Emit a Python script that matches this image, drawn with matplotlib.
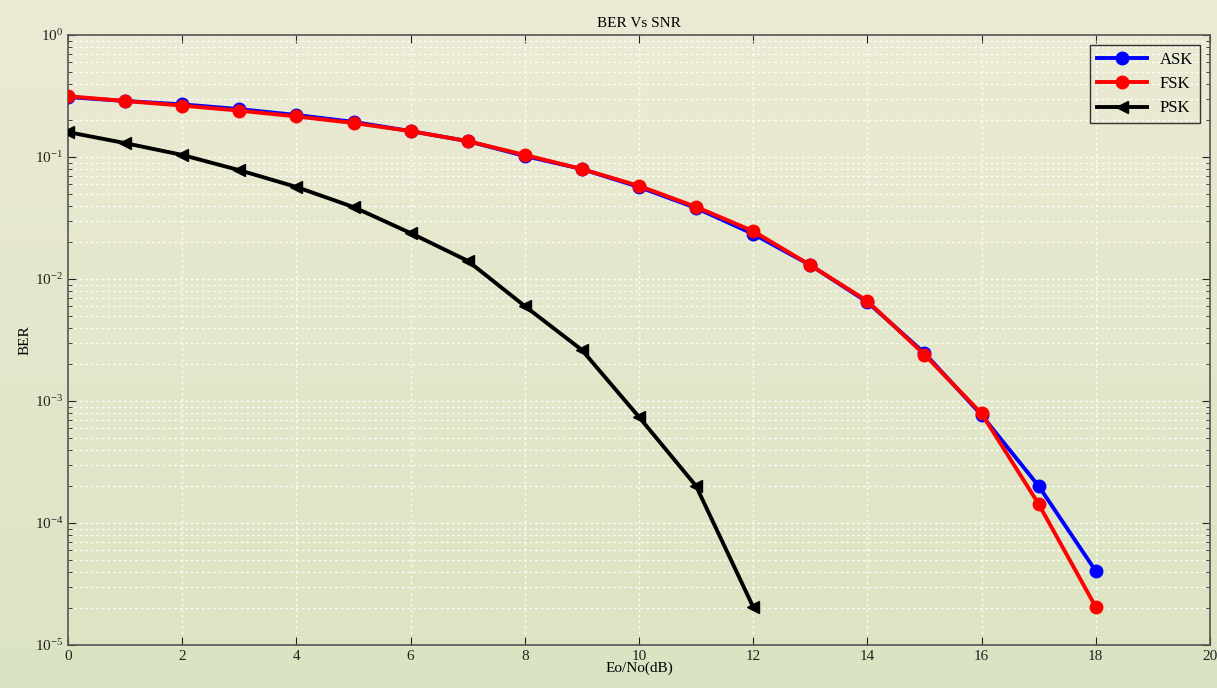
import numpy as np
import matplotlib.pyplot as plt
from matplotlib.ticker import LogLocator

# ==========================
# Dados
# ==========================
snr_ask = [0, 1, 2, 3, 4, 5, 6, 7, 8, 9, 10, 11, 12, 13, 14, 15, 16, 17, 18]
ber_ask = [0.31, 0.288, 0.27, 0.247, 0.221, 0.194, 0.163, 0.135, 0.102,
           0.0797, 0.0568, 0.0382, 0.0234, 0.013, 0.00647, 0.00247,
           7.67e-4, 2.01e-4, 4.04e-5]

snr_fsk = [0, 1, 2, 3, 4, 5, 6, 7, 8, 9, 10, 11, 12, 13, 14, 15, 16, 17, 18]
ber_fsk = [0.315, 0.288, 0.264, 0.24, 0.215, 0.19, 0.163, 0.135, 0.104,
           0.0797, 0.058, 0.039, 0.0247, 0.013, 0.0066, 0.0024,
           7.9e-4, 1.43e-4, 2.05e-5]

snr_psk = [0, 1, 2, 3, 4, 5, 6, 7, 8, 9, 10, 11, 12]
ber_psk = [0.16, 0.13, 0.104, 0.078, 0.0568, 0.0389, 0.0238, 0.0141,
           0.006, 0.00262, 7.4e-4, 2.01e-4, 2.05e-5]

plt.rcParams['font.family'] = ['Liberation Serif', 'DejaVu Serif']

# ==========================
# Gráfico
# ==========================
fig = plt.figure(figsize=(12.17, 6.88), dpi=100)

# fundo em degradê
bg = fig.add_axes([0, 0, 1, 1], zorder=-10)
top = np.array([0xEC, 0xEA, 0xD4]) / 255
bot = np.array([0xDB, 0xE4, 0xC2]) / 255
t = np.linspace(0, 1, 256)[:, None]
grad = top * (1 - t) + bot * t
bg.imshow(grad[:, None, :], aspect='auto', extent=[0, 1, 0, 1])
bg.axis('off')

ax = fig.add_axes([0.0559, 0.0625, 0.9383, 0.8866])
ax.set_facecolor('none')

ax.semilogy(snr_ask, ber_ask, color='blue', marker='o', lw=2.8,
            markersize=9, label='ASK', zorder=3)
ax.semilogy(snr_fsk, ber_fsk, color='red', marker='o', lw=2.8,
            markersize=9, label='FSK', zorder=4)
ax.semilogy(snr_psk, ber_psk, color='black', marker='<', lw=2.8,
            markersize=9, label='PSK', zorder=3)

ax.set_xlim(0, 20)
ax.set_ylim(1e-5, 1)
ax.set_xticks(range(0, 21, 2))
ax.yaxis.set_major_locator(LogLocator(base=10, numticks=10))
ax.yaxis.set_minor_locator(LogLocator(base=10, subs=np.arange(2, 10), numticks=20))

ax.grid(True, which='major', color='white', linestyle=(0, (2, 2)), lw=1, alpha=0.85)
ax.grid(True, which='minor', axis='y', color='white', linestyle=(0, (2, 2)),
        lw=1, alpha=0.85)

ax.tick_params(which='both', direction='in', top=True, right=True,
               labelsize=11, colors='#222222')
ax.tick_params(which='major', length=6)
ax.tick_params(which='minor', length=3)
for s in ax.spines.values():
    s.set_color('#555555')
    s.set_linewidth(1.2)

ax.set_xlabel('Eo/No(dB)', fontsize=11, labelpad=-1)
ax.set_ylabel('BER', fontsize=11, labelpad=2)
ax.set_title('BER Vs SNR', fontsize=11, pad=6)

leg = ax.legend(loc='upper right', fontsize=12, fancybox=False,
                edgecolor='#333333', framealpha=1, facecolor='none',
                handlelength=3, borderaxespad=0.6)

fig.savefig('out.png', dpi=100)
plt.close()
